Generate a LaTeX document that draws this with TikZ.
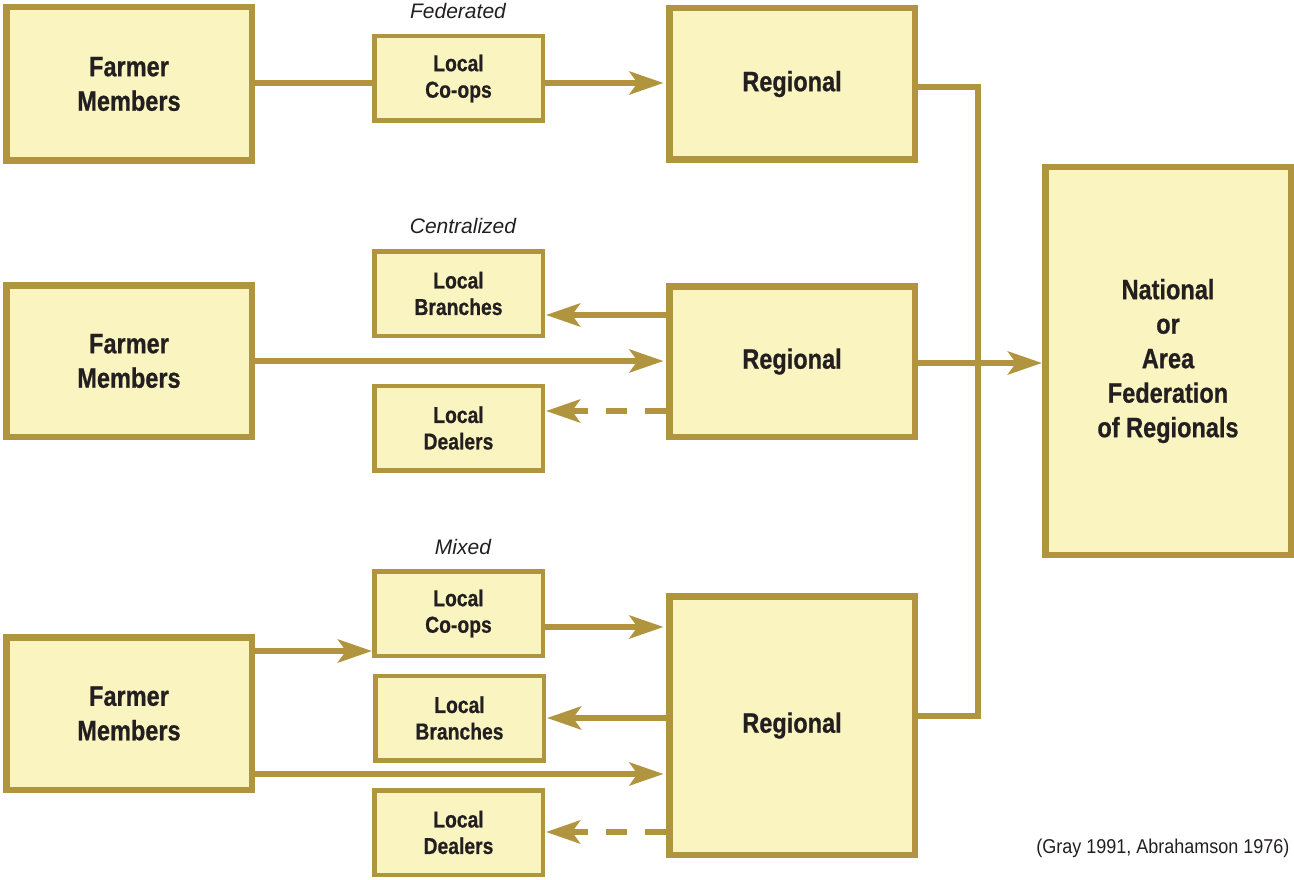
\documentclass[tikz,border=0pt]{standalone}
\usepackage{fontspec}
\setmainfont{Liberation Sans}[FakeStretch=0.84,BoldFeatures={FakeBold=0.7}]
\newfontfamily\kindfont{Liberation Sans}
\newfontfamily\sourcefont{Liberation Sans}[FakeStretch=0.9]
\usetikzlibrary{arrows.meta}
\definecolor{coopgold}{HTML}{B0943E}
\definecolor{coopfill}{HTML}{FAF5C0}
\definecolor{cooptext}{HTML}{231F20}

\begin{document}
\begin{tikzpicture}[x=1pt,y=-1pt,
  unit/.style={draw=coopgold,fill=coopfill,line width=6.5pt,text=cooptext,align=center,inner sep=0pt,
    font=\fontsize{28}{34.5}\selectfont\bfseries,minimum width=245.5pt},
  local/.style={draw=coopgold,fill=coopfill,line width=4.5pt,text=cooptext,align=center,inner sep=0pt,
    font=\fontsize{23}{26.5}\selectfont\bfseries,minimum width=168.5pt,minimum height=84.5pt},
  kind/.style={text=cooptext,font=\kindfont\fontsize{21}{25}\selectfont\itshape},
  link/.style={draw=coopgold,line width=6pt},
  flow/.style={link,-{Stealth[length=34pt,width=23pt,inset=8pt]}},
  back/.style={flow,dash pattern=on 21pt off 18pt}]
\useasboundingbox (0,0) rectangle (1294,880);

\node[unit,minimum height=153.5pt] (fmA) at (129,84) {Farmer\\Members};
\node[local] (lcA) at (458.5,78.5) {Local\\Co-ops};
\node[unit,minimum height=151.5pt] (regA) at (792,84) {Regional};
\node[kind] (fedLabel) at (458,11) {Federated};

\node[unit,minimum height=151.5pt] (fmB) at (129,361) {Farmer\\Members};
\node[local] (lbB) at (458.5,293.5) {Local\\Branches};
\node[local] (ldB) at (458.5,428) {Local\\Dealers};
\node[unit,minimum height=150.5pt] (regB) at (792,361.5) {Regional};
\node[kind] (cenLabel) at (463,226) {Centralized};

\node[unit,minimum height=152.5pt] (fmC) at (129,713.5) {Farmer\\Members};
\node[local] (lcC) at (458.5,613.5) {Local\\Co-ops};
\node[local] (lbC) at (459.5,718) {Local\\Branches};
\node[local] (ldC) at (458.5,832.5) {Local\\Dealers};
\node[unit,minimum height=258.5pt] (regC) at (792,725.5) {Regional};
\node[kind] (mixLabel) at (463,547) {Mixed};

\node[unit,minimum height=387.5pt] (nat) at (1168,361) {National\\or\\Area\\Federation\\of Regionals};
\node[anchor=east,text=cooptext,font=\sourcefont\fontsize{20}{24}\selectfont] (source) at (1293,848)
  {(Gray 1991, Abrahamson 1976)};

\coordinate (busA) at (978,87);
\coordinate (busC) at (978,716);

\draw[link] (fmA.east |- 0,83) -- (lcA.west |- 0,83);
\draw[flow,shorten >=2.5pt] (lcA.east |- 0,83) -- (regA.west |- 0,83);
\draw[link,line join=miter] (regA.east |- busA) -- (busA) -- (busC) -- (regC.east |- busC);
\draw[flow] (regB.east |- 0,363) -- (nat.west |- 0,363);

\draw[flow,shorten >=1pt] (regB.west |- 0,315) -- (lbB.east |- 0,315);
\draw[flow,shorten >=2.5pt] (fmB.east |- 0,361) -- (regB.west |- 0,361);
\draw[back,shorten >=1pt] (regB.west |- 0,411) -- (ldB.east |- 0,411);

\draw[flow] (fmC.east |- 0,651) -- (lcC.west |- 0,651);
\draw[flow,shorten >=2.5pt] (lcC.east |- 0,627) -- (regC.west |- 0,627);
\draw[flow,shorten >=1pt] (regC.west |- 0,718) -- (lbC.east |- 0,718);
\draw[flow,shorten >=2.5pt] (fmC.east |- 0,774) -- (regC.west |- 0,774);
\draw[back,shorten >=1pt] (regC.west |- 0,832) -- (ldC.east |- 0,832);
\end{tikzpicture}
\end{document}
